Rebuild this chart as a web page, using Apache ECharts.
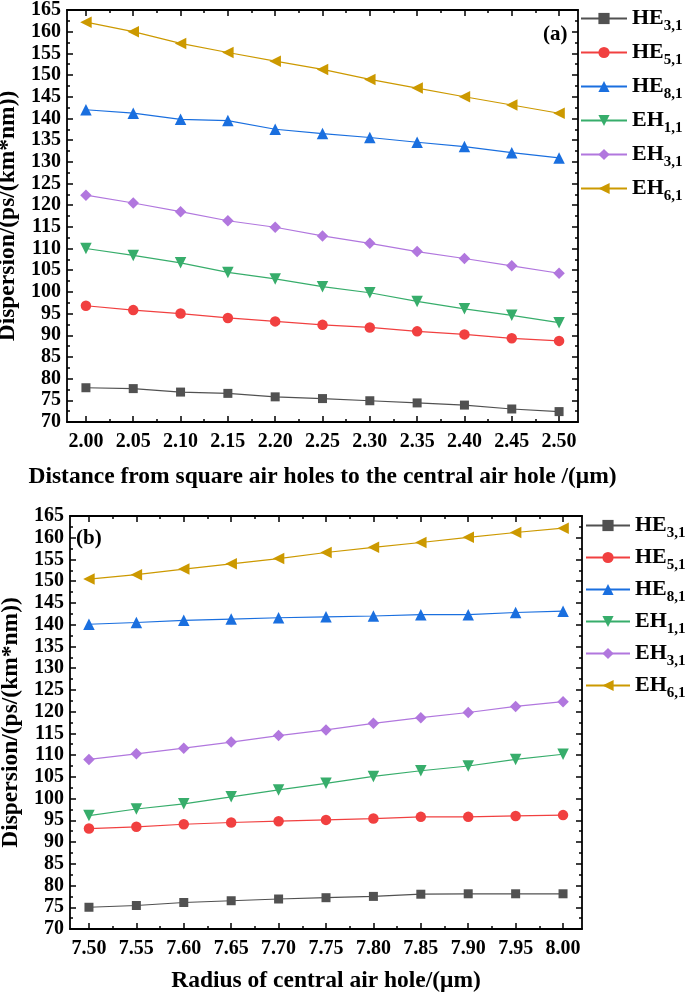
<!DOCTYPE html>
<html><head><meta charset="utf-8">
<script src="https://cdn.jsdelivr.net/npm/echarts@6/dist/echarts.min.js"></script>
<style>html,body{margin:0;padding:0;background:#fff}#c{width:685px;height:996px}</style>
</head><body><div id="c"></div>
<script>
// ---- data ----
const seriesNames = ['HE3,1','HE5,1','HE8,1','EH1,1','EH3,1','EH6,1'];

const xA = [2.00,2.05,2.10,2.15,2.20,2.25,2.30,2.35,2.40,2.45,2.50];
const xATicks = [2.00,2.05,2.10,2.15,2.20,2.25,2.30,2.35,2.40,2.45,2.50];
const xAMinor = [1.975,2.025,2.075,2.125,2.175,2.225,2.275,2.325,2.375,2.425,2.475,2.525];
const a_HE31 = [77.9,77.7,76.9,76.6,75.8,75.4,74.9,74.4,73.9,73.0,72.4];
const a_HE51 = [96.8,95.8,95.0,94.0,93.2,92.4,91.8,90.9,90.2,89.3,88.7];
const a_HE81 = [142.0,141.2,139.8,139.5,137.5,136.5,135.6,134.5,133.5,132.1,130.9];
const a_EH11 = [110.0,108.4,106.7,104.5,103.0,101.2,99.8,97.8,96.1,94.6,92.9];
const a_EH31 = [122.3,120.5,118.5,116.4,114.9,112.9,111.2,109.3,107.7,106.0,104.3];
const a_EH61 = [162.2,160.0,157.3,155.2,153.2,151.3,149.0,147.0,145.0,143.1,141.2];

const xB = [7.50,7.55,7.60,7.65,7.70,7.75,7.80,7.85,7.90,7.95,8.00];
const xBTicks = [7.50,7.55,7.60,7.65,7.70,7.75,7.80,7.85,7.90,7.95,8.00];
const xBMinor = [7.475,7.525,7.575,7.625,7.675,7.725,7.775,7.825,7.875,7.925,7.975,8.025];
const b_HE31 = [75.0,75.4,76.1,76.5,76.9,77.2,77.5,78.0,78.1,78.1,78.1];
const b_HE51 = [93.1,93.5,94.1,94.5,94.8,95.1,95.4,95.8,95.8,96.0,96.2];
const b_HE81 = [140.1,140.5,141.0,141.3,141.6,141.8,142.0,142.3,142.3,142.8,143.1];
const b_EH11 = [96.1,97.6,98.8,100.4,102.0,103.5,105.1,106.4,107.5,109.0,110.2];
const b_EH31 = [109.0,110.3,111.6,113.0,114.5,115.8,117.3,118.6,119.8,121.2,122.3];
const b_EH61 = [150.5,151.5,152.8,154.0,155.2,156.6,157.8,158.9,160.1,161.2,162.2];

const yMin = 70, yMax = 165, yStep = 5;

const xTitleA = 'Distance from square air holes to the central air hole /(μm)';
const xTitleB = 'Radius of central air hole/(μm)';
const yTitle = 'Dispersion/(ps/(km*nm))';

// ---- styles ----
const colors = ['#515151','#F14040','#1A6FDF','#37AD6B','#B177DE','#CC9900'];
const symbols = ['rect','circle','triangle','path://M0,0 L10,0 L5,9 Z','diamond','path://M9,0 L0,5 L9,10 Z'];
const symSizes = [9,10.5,11.5,11.5,11.5,11.5];
const FONT = '"Liberation Serif","Times New Roman",serif';

const dataA = [a_HE31,a_HE51,a_HE81,a_EH11,a_EH31,a_EH61];
const dataB = [b_HE31,b_HE51,b_HE81,b_EH11,b_EH31,b_EH61];

const grids = [
  {left: 67, top: 10, width: 511, height: 412, outerBoundsMode: 'none', containLabel: false},
  {left: 70, top: 516, width: 512, height: 413, outerBoundsMode: 'none', containLabel: false}
];

function xAxes(gi, min, max, ticks, minor, title, gap) {
  const base = {type:'value', gridIndex: gi, min: min, max: max, splitLine:{show:false}};
  const line = {show:true, onZero:false, lineStyle:{color:'#000', width:1.8}};
  return [
    Object.assign({}, base, {position:'bottom', axisLine: line,
      axisTick:{show:true, inside:true, length:6, customValues: ticks, lineStyle:{color:'#000', width:1.5}},
      axisLabel:{show:true, customValues: ticks, formatter: v => v.toFixed(2), margin: 10,
        fontFamily: FONT, fontWeight:'bold', fontSize:20, color:'#000'},
      name: title, nameLocation:'middle', nameGap: gap,
      nameTextStyle:{fontFamily: FONT, fontWeight:'bold', fontSize:23.5, color:'#000'}}),
    Object.assign({}, base, {position:'top', axisLine: line,
      axisTick:{show:true, inside:true, length:6, customValues: ticks, lineStyle:{color:'#000', width:1.5}},
      axisLabel:{show:false}}),
    Object.assign({}, base, {position:'bottom', axisLine:{show:false},
      axisTick:{show:true, inside:true, length:3, customValues: minor, lineStyle:{color:'#000', width:1.5}},
      axisLabel:{show:false}}),
    Object.assign({}, base, {position:'top', axisLine:{show:false},
      axisTick:{show:true, inside:true, length:3, customValues: minor, lineStyle:{color:'#000', width:1.5}},
      axisLabel:{show:false}})
  ];
}
function yAxes(gi) {
  const base = {type:'value', gridIndex: gi, min: yMin, max: yMax, interval: yStep, splitLine:{show:false},
    axisLine:{show:true, onZero:false, lineStyle:{color:'#000', width:1.8}},
    axisTick:{show:true, inside:true, length:6, lineStyle:{color:'#000', width:1.5}},
    minorTick:{show:true, splitNumber:2, length:3, lineStyle:{color:'#000', width:1.5}}};
  return [
    Object.assign({}, base, {position:'left',
      axisLabel:{show:true, margin:6, fontFamily: FONT, fontWeight:'bold', fontSize:20, color:'#000'},
      name: yTitle, nameLocation:'middle', nameGap: 44,
      nameTextStyle:{fontFamily: FONT, fontWeight:'bold', fontSize:23.5, color:'#000'}}),
    Object.assign({}, base, {position:'right', axisLabel:{show:false}})
  ];
}

const xAxis = [].concat(xAxes(0, 1.98, 2.52, xATicks, xAMinor, xTitleA, 43), xAxes(1, 7.48, 8.02, xBTicks, xBMinor, xTitleB, 40));
const yAxis = [].concat(yAxes(0), yAxes(1));

const series = [];
[[xA, dataA, 0, 0], [xB, dataB, 4, 2]].forEach(([xs, ds, xi, yi]) => {
  ds.forEach((vals, k) => {
    series.push({
      type:'line', name: seriesNames[k], xAxisIndex: xi, yAxisIndex: yi,
      data: xs.map((x, i) => [x, vals[i]]),
      symbol: symbols[k], symbolSize: symSizes[k],
      itemStyle:{color: colors[k]}, lineStyle:{color: colors[k], width:1.2},
      emphasis:{disabled:true}, z: 3
    });
  });
});

const rich = {
  m:{fontFamily: FONT, fontWeight:'bold', fontSize:22, color:'#000', padding:[4,0,0,0], verticalAlign:'top'},
  s:{fontFamily: FONT, fontWeight:'bold', fontSize:15, color:'#000', padding:[16,0,0,0], verticalAlign:'top'}
};
const legendFmt = name => '{m|' + name.slice(0,2) + '}{s|' + name.slice(2) + '}';

const legend = [
  {orient:'vertical', left: 580, top: 7, padding:0, itemWidth:46, itemHeight:14, itemGap:7,
   data: seriesNames, formatter: legendFmt, textStyle:{rich: rich}, selectedMode:false},
  {orient:'vertical', left: 585, top: 514, padding:0, itemWidth:44, itemHeight:14, itemGap:5,
   data: seriesNames, formatter: legendFmt, textStyle:{rich: rich}, selectedMode:false}
];

const chart = echarts.init(document.getElementById('c'), null, {renderer:'canvas'});
chart.setOption({
  animation:false,
  backgroundColor:'#fff',
  title:[
    {text:'(a)', left:543, top:24, padding:0, textStyle:{fontFamily: FONT, fontWeight:'bold', fontSize:21, color:'#000'}},
    {text:'(b)', left:76, top:528, padding:0, textStyle:{fontFamily: FONT, fontWeight:'bold', fontSize:21, color:'#000'}}
  ],
  grid: grids,
  xAxis: xAxis,
  yAxis: yAxis,
  legend: legend,
  series: series
});
</script>
</body></html>
